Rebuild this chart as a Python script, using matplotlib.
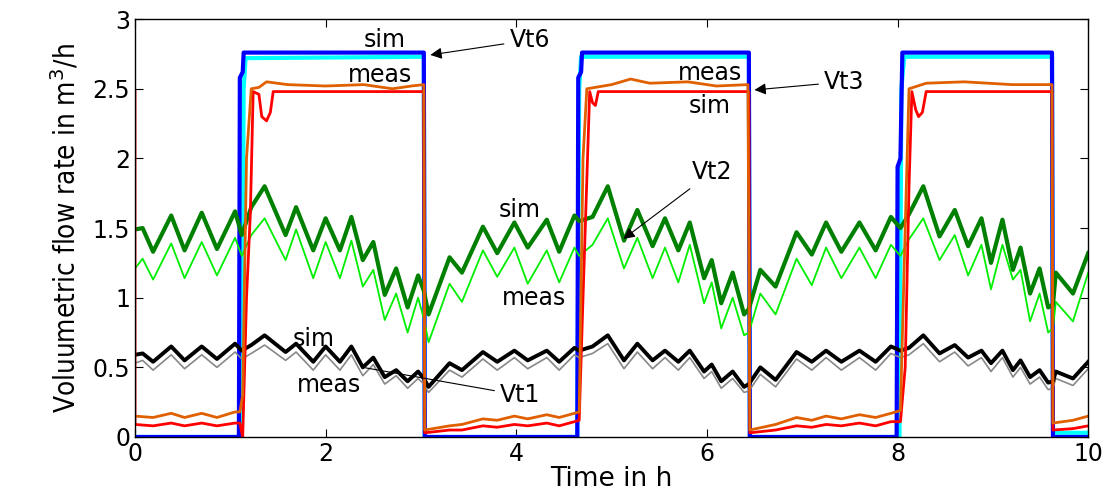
import matplotlib
matplotlib.use("Agg")
import matplotlib.pyplot as plt
from matplotlib.ticker import FuncFormatter
import numpy as np

# common time base for the oscillating signals (peaks / troughs)
t_osc = [0.0, 0.08, 0.19, 0.38, 0.52, 0.70, 0.86, 1.05, 1.12, 1.22, 1.36, 1.58,
         1.69, 1.87, 2.0, 2.15, 2.27, 2.39, 2.5, 2.62, 2.74, 2.86, 2.97, 3.03,
         3.08, 3.30, 3.43, 3.65, 3.80, 3.98, 4.12, 4.32, 4.45, 4.61, 4.66, 4.80,
         4.96, 5.13, 5.27, 5.43, 5.56, 5.70, 5.82, 5.97, 6.05, 6.15, 6.27, 6.39,
         6.44, 6.56, 6.72, 6.94, 7.10, 7.25, 7.41, 7.60, 7.77, 7.93, 8.03, 8.12,
         8.27, 8.44, 8.60, 8.74, 8.88, 8.98, 9.10, 9.21, 9.29, 9.39, 9.49, 9.58,
         9.63, 9.66, 9.84, 10.0]

vt2_sim = [1.49, 1.50, 1.33, 1.59, 1.34, 1.61, 1.35, 1.62, 1.45, 1.65, 1.80, 1.45,
           1.65, 1.34, 1.57, 1.34, 1.58, 1.27, 1.40, 1.02, 1.21, 0.93, 1.16, 1.05,
           0.88, 1.29, 1.18, 1.51, 1.32, 1.54, 1.36, 1.56, 1.33, 1.59, 1.55, 1.58,
           1.80, 1.41, 1.63, 1.37, 1.57, 1.34, 1.54, 1.14, 1.27, 0.96, 1.18, 0.88,
           0.92, 1.20, 1.08, 1.47, 1.31, 1.54, 1.33, 1.54, 1.34, 1.58, 1.50, 1.60,
           1.80, 1.44, 1.63, 1.37, 1.57, 1.25, 1.56, 1.20, 1.36, 1.03, 1.21, 0.93,
           0.95, 1.18, 1.03, 1.32]

vt2_meas = [1.21, 1.28, 1.13, 1.39, 1.14, 1.40, 1.16, 1.43, 1.30, 1.45, 1.57, 1.27,
            1.49, 1.14, 1.40, 1.14, 1.41, 1.08, 1.20, 0.84, 1.03, 0.75, 1.00, 0.85,
            0.68, 1.10, 0.97, 1.34, 1.15, 1.36, 1.10, 1.34, 1.11, 1.36, 1.30, 1.38,
            1.57, 1.21, 1.43, 1.14, 1.36, 1.11, 1.38, 0.96, 1.11, 0.78, 1.00, 0.73,
            0.75, 1.03, 0.88, 1.28, 1.09, 1.36, 1.14, 1.36, 1.14, 1.38, 1.30, 1.42,
            1.57, 1.27, 1.45, 1.16, 1.38, 1.06, 1.38, 1.13, 1.20, 0.83, 1.03, 0.75,
            0.78, 0.97, 0.83, 1.18]

vt1_sim = [0.59, 0.60, 0.54, 0.65, 0.55, 0.65, 0.56, 0.67, 0.62, 0.66, 0.73, 0.61,
           0.67, 0.54, 0.65, 0.54, 0.65, 0.50, 0.57, 0.43, 0.48, 0.40, 0.47, 0.42,
           0.36, 0.53, 0.48, 0.61, 0.54, 0.62, 0.55, 0.62, 0.54, 0.64, 0.62, 0.65,
           0.73, 0.55, 0.67, 0.55, 0.62, 0.54, 0.62, 0.47, 0.52, 0.40, 0.47, 0.36,
           0.38, 0.50, 0.41, 0.61, 0.54, 0.62, 0.54, 0.62, 0.54, 0.65, 0.62, 0.64,
           0.73, 0.60, 0.66, 0.57, 0.62, 0.53, 0.62, 0.48, 0.55, 0.43, 0.48, 0.39,
           0.40, 0.47, 0.42, 0.54]

vt1_meas = [0.53, 0.55, 0.48, 0.59, 0.49, 0.59, 0.50, 0.61, 0.56, 0.60, 0.66, 0.55,
            0.61, 0.48, 0.59, 0.48, 0.59, 0.44, 0.52, 0.38, 0.44, 0.35, 0.42, 0.38,
            0.32, 0.48, 0.43, 0.56, 0.48, 0.57, 0.49, 0.57, 0.48, 0.59, 0.57, 0.60,
            0.67, 0.49, 0.61, 0.49, 0.57, 0.48, 0.57, 0.42, 0.47, 0.35, 0.42, 0.32,
            0.33, 0.45, 0.36, 0.56, 0.48, 0.57, 0.48, 0.57, 0.48, 0.60, 0.57, 0.59,
            0.67, 0.54, 0.61, 0.51, 0.57, 0.47, 0.57, 0.43, 0.50, 0.38, 0.43, 0.34,
            0.35, 0.42, 0.37, 0.49]

# Vt3 / Vt6 (time, value) pairs
vt3_sim = [(0.0, 2.48), (0.0, 0.09), (0.19, 0.08), (0.38, 0.10), (0.52, 0.08),
           (0.70, 0.10), (0.86, 0.08), (1.05, 0.10), (1.10, 0.10), (1.13, 0.0),
           (1.17, 1.0), (1.21, 1.6), (1.24, 2.48), (1.30, 2.46), (1.33, 2.30),
           (1.38, 2.27), (1.42, 2.33), (1.45, 2.48), (3.03, 2.48), (3.04, 0.03),
           (3.30, 0.05), (3.43, 0.05), (3.65, 0.08), (3.80, 0.07), (3.98, 0.09),
           (4.12, 0.08), (4.32, 0.10), (4.45, 0.08), (4.61, 0.11), (4.66, 0.12),
           (4.70, 1.0), (4.77, 2.48), (4.80, 2.40), (4.83, 2.38), (4.86, 2.48),
           (6.44, 2.48), (6.45, 0.03), (6.72, 0.05), (6.94, 0.08), (7.10, 0.07),
           (7.25, 0.09), (7.41, 0.08), (7.60, 0.10), (7.77, 0.08), (7.93, 0.11),
           (8.03, 0.11), (8.08, 0.5), (8.12, 1.8), (8.15, 2.48), (8.19, 2.35),
           (8.22, 2.30), (8.26, 2.33), (8.30, 2.48), (9.62, 2.48), (9.63, 0.05),
           (9.84, 0.06), (10.0, 0.08)]

vt3_meas = [(0.0, 0.15), (0.19, 0.14), (0.38, 0.17), (0.52, 0.14), (0.70, 0.17),
            (0.86, 0.14), (1.05, 0.18), (1.10, 0.18), (1.13, 0.30), (1.17, 2.0),
            (1.22, 2.50), (1.30, 2.51), (1.38, 2.55), (1.6, 2.53), (2.0, 2.52),
            (2.4, 2.53), (2.7, 2.50), (2.9, 2.52), (3.03, 2.53), (3.04, 0.05),
            (3.30, 0.08), (3.43, 0.09), (3.65, 0.13), (3.80, 0.12), (3.98, 0.15),
            (4.12, 0.13), (4.32, 0.16), (4.45, 0.14), (4.61, 0.17), (4.66, 0.18),
            (4.70, 2.0), (4.74, 2.50), (5.0, 2.53), (5.2, 2.57), (5.4, 2.54),
            (5.8, 2.55), (6.1, 2.52), (6.43, 2.53), (6.45, 0.05), (6.72, 0.09),
            (6.94, 0.14), (7.10, 0.12), (7.25, 0.15), (7.41, 0.13), (7.60, 0.16),
            (7.77, 0.14), (7.93, 0.17), (8.03, 0.19), (8.08, 1.5), (8.12, 2.50),
            (8.3, 2.54), (8.7, 2.55), (9.2, 2.53), (9.62, 2.53), (9.63, 0.10),
            (9.84, 0.12), (10.0, 0.15)]

vt6_sim = [(0.0, 0.0), (1.09, 0.0), (1.10, 2.58), (1.13, 2.62), (1.14, 2.76),
           (3.03, 2.76), (3.04, 0.0), (4.64, 0.0), (4.65, 2.58), (4.68, 2.62),
           (4.69, 2.76), (6.44, 2.76), (6.45, 0.0), (7.99, 0.0), (8.00, 1.94),
           (8.03, 2.0), (8.05, 2.76), (9.62, 2.76), (9.63, 0.0), (10.0, 0.0)]

vt6_meas = [(0.0, 0.0), (1.12, 0.0), (1.14, 2.5), (1.16, 2.72), (3.03, 2.73),
            (3.04, 0.0), (4.64, 0.0), (4.66, 2.5), (4.68, 2.73), (6.44, 2.73),
            (6.45, 0.0), (8.02, 0.0), (8.04, 2.5), (8.07, 2.73), (9.62, 2.73),
            (9.63, 0.03), (10.0, 0.03)]

fig = plt.figure(figsize=(11.11, 4.91), dpi=100)
ax = fig.add_axes([0.1215, 0.110, 0.858, 0.851])

def xy(pairs):
    a = np.array(pairs)
    return a[:, 0], a[:, 1]

ax.plot(*xy(vt6_meas), color='#00ffff', lw=3)
ax.plot(*xy(vt6_sim), color='#0000ff', lw=3)
ax.plot(t_osc, vt2_meas, color='#00ee00', lw=1.3)
ax.plot(t_osc, vt2_sim, color='#008000', lw=3)
ax.plot(t_osc, vt1_meas, color='#888888', lw=1.2)
ax.plot(t_osc, vt1_sim, color='black', lw=2.8)
ax.plot(*xy(vt3_sim), color='#ff0000', lw=2)
ax.plot(*xy(vt3_meas), color='#e06000', lw=2)

ax.set_xlim(0, 10)
ax.set_ylim(0, 3)
ax.set_xticks([0, 2, 4, 6, 8, 10])
ax.set_yticks([0, 0.5, 1, 1.5, 2, 2.5, 3])
ax.yaxis.set_major_formatter(FuncFormatter(lambda v, p: '%g' % v))
ax.tick_params(direction='in', top=True, right=True, length=6, labelsize=17)
for s in ax.spines.values():
    s.set_linewidth(1)

ax.set_xlabel('Time in h', fontsize=19, labelpad=0)
ax.set_ylabel('Voluumetric flow rate in m$^3$/h', fontsize=20,
              family='DejaVu Sans', stretch='condensed', labelpad=8)

fs = 17
ax.text(2.62, 2.85, 'sim', fontsize=fs, ha='center', va='center')
ax.text(2.57, 2.60, 'meas', fontsize=fs, ha='center', va='center')
ax.annotate('Vt6', xy=(3.07, 2.74), xytext=(4.14, 2.85), fontsize=fs,
            ha='center', va='center',
            arrowprops=dict(arrowstyle='-|>', color='k', lw=0.8))
ax.text(6.03, 2.61, 'meas', fontsize=fs, ha='center', va='center')
ax.text(6.03, 2.38, 'sim', fontsize=fs, ha='center', va='center')
ax.annotate('Vt3', xy=(6.47, 2.49), xytext=(7.44, 2.55), fontsize=fs,
            ha='center', va='center',
            arrowprops=dict(arrowstyle='-|>', color='k', lw=0.8))
ax.annotate('Vt2', xy=(5.1, 1.41), xytext=(6.05, 1.90), fontsize=fs,
            ha='center', va='center',
            arrowprops=dict(arrowstyle='-|>', color='k', lw=0.8))
ax.text(4.04, 1.63, 'sim', fontsize=fs, ha='center', va='center')
ax.text(4.19, 1.00, 'meas', fontsize=fs, ha='center', va='center')
ax.text(1.87, 0.70, 'sim', fontsize=fs, ha='center', va='center')
ax.text(2.04, 0.37, 'meas', fontsize=fs, ha='center', va='center')
ax.annotate('Vt1', xy=(2.39, 0.50), xytext=(4.04, 0.30), fontsize=fs,
            ha='center', va='center',
            arrowprops=dict(arrowstyle='-', color='k', lw=0.8))

fig.savefig('out.png', dpi=100)
